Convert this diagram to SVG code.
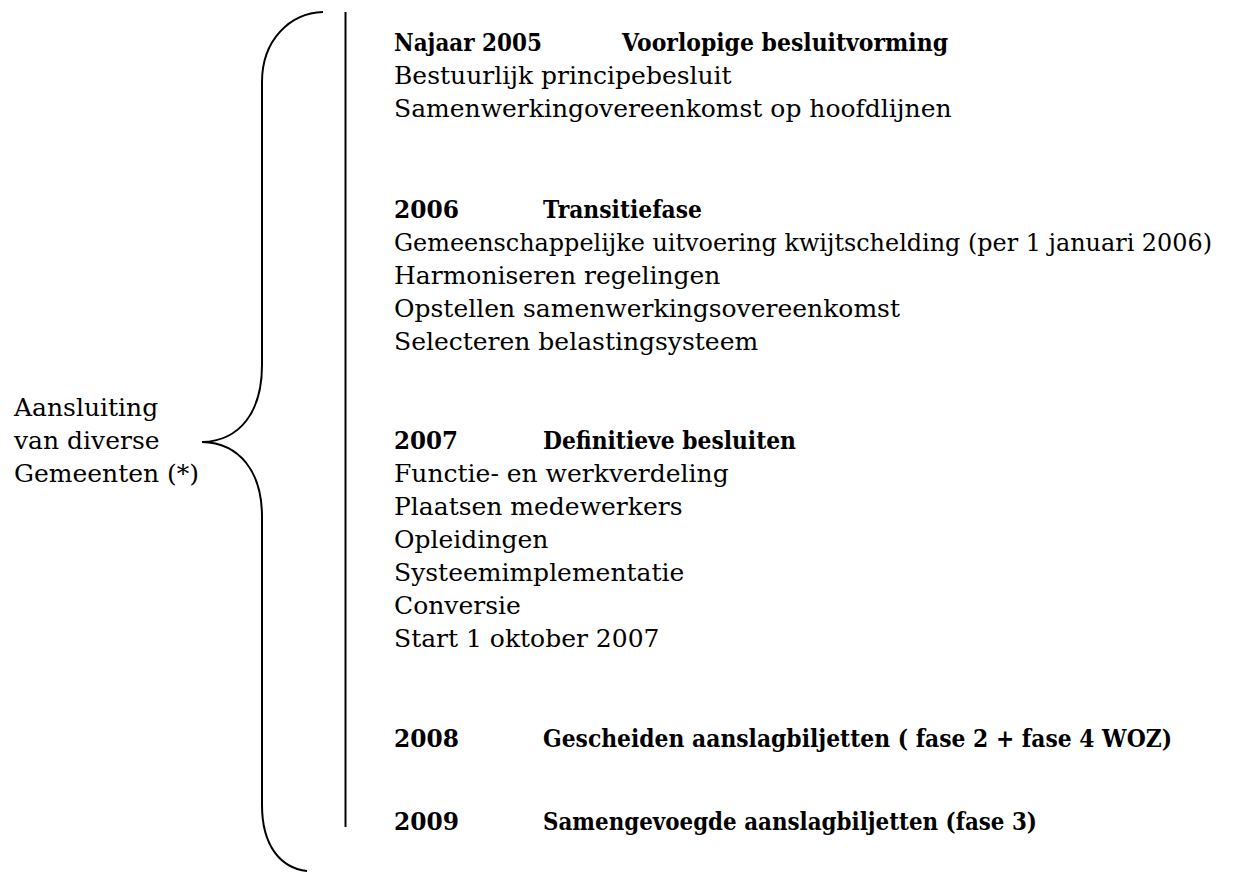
<svg xmlns="http://www.w3.org/2000/svg" width="1242" height="873" viewBox="0 0 1242 873">
<style>
  text { font-family: "DejaVu Serif", "Liberation Serif", serif; font-size: 25px; fill: #000; }
  .h { font-weight: bold; }
  .s { font-size: 23.5px; }
  .ln { fill: none; stroke: #000; stroke-width: 2; }
</style>
<rect width="1242" height="873" fill="#fff"/>
<g id="connectors">
  <path id="brace" class="ln" d="M323 12 C290 13 262 40 262 82 L262 365 C262 412 240 441 202 442 C240 443 262 472 262 517 L262 805 C262 845 280 868 307 871"/>
  <line id="timeline" class="ln" x1="345.5" y1="12" x2="345.5" y2="827"/>
</g>
<g id="label">
  <text x="14" y="416">Aansluiting</text>
  <text x="14" y="449">van diverse</text>
  <text x="14" y="482">Gemeenten (*)</text>
</g>
<g id="fase2005">
  <text class="h" x="394" y="51" textLength="148" lengthAdjust="spacingAndGlyphs">Najaar 2005</text>
  <text class="h" x="622" y="51" textLength="326" lengthAdjust="spacingAndGlyphs">Voorlopige besluitvorming</text>
  <text x="394" y="84">Bestuurlijk principebesluit</text>
  <text x="394" y="117">Samenwerkingovereenkomst op hoofdlijnen</text>
</g>
<g id="fase2006">
  <text class="h" x="394" y="218" textLength="65" lengthAdjust="spacingAndGlyphs">2006</text>
  <text class="h" x="543" y="218" textLength="159" lengthAdjust="spacingAndGlyphs">Transitiefase</text>
  <text class="s" x="394" y="251" textLength="818" lengthAdjust="spacingAndGlyphs">Gemeenschappelijke uitvoering kwijtschelding (per 1 januari 2006)</text>
  <text x="394" y="284">Harmoniseren regelingen</text>
  <text x="394" y="317">Opstellen samenwerkingsovereenkomst</text>
  <text x="394" y="350">Selecteren belastingsysteem</text>
</g>
<g id="fase2007">
  <text class="h" x="394" y="449" textLength="64" lengthAdjust="spacingAndGlyphs">2007</text>
  <text class="h" x="543" y="449" textLength="253" lengthAdjust="spacingAndGlyphs">Definitieve besluiten</text>
  <text x="394" y="482">Functie- en werkverdeling</text>
  <text x="394" y="515">Plaatsen medewerkers</text>
  <text x="394" y="548">Opleidingen</text>
  <text x="394" y="581">Systeemimplementatie</text>
  <text x="394" y="614">Conversie</text>
  <text x="394" y="647">Start 1 oktober 2007</text>
</g>
<g id="fase2008">
  <text class="h" x="394" y="747" textLength="65" lengthAdjust="spacingAndGlyphs">2008</text>
  <text class="h s" x="543" y="747" textLength="629" lengthAdjust="spacingAndGlyphs">Gescheiden aanslagbiljetten ( fase 2 + fase 4 WOZ)</text>
</g>
<g id="fase2009">
  <text class="h" x="394" y="830" textLength="65" lengthAdjust="spacingAndGlyphs">2009</text>
  <text class="h" x="543" y="830" textLength="494" lengthAdjust="spacingAndGlyphs">Samengevoegde aanslagbiljetten (fase 3)</text>
</g>
</svg>
